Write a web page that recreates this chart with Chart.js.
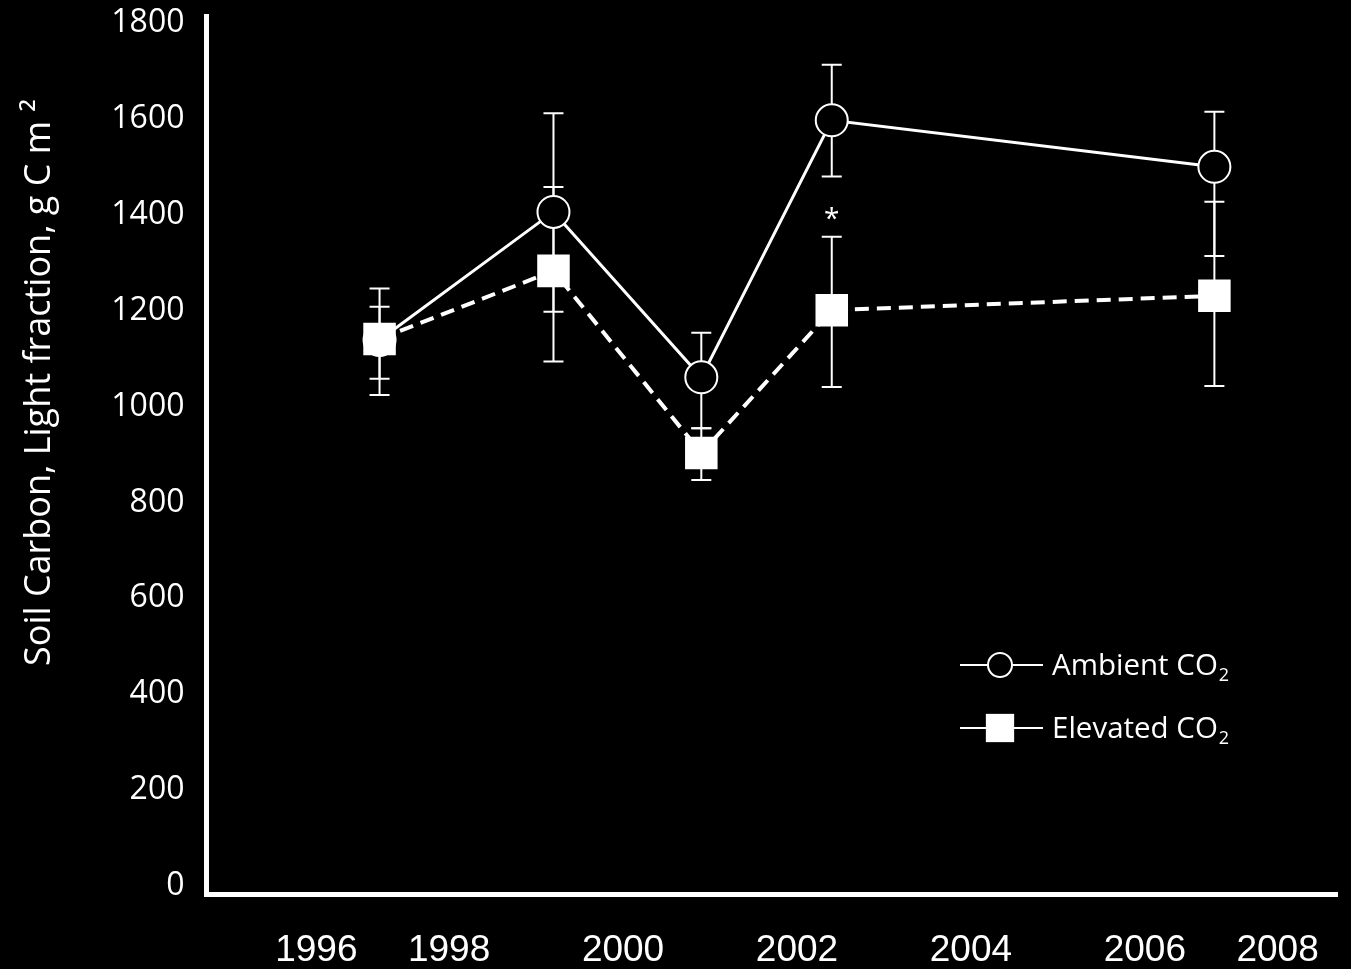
<!DOCTYPE html>
<html>
<head>
<meta charset="utf-8">
<script src="https://cdn.jsdelivr.net/npm/chart.js@4.4.1/dist/chart.umd.min.js"></script>
<style>
  html, body { margin: 0; padding: 0; background: #000; }
  #wrap { width: 1351px; height: 969px; position: relative; }
</style>
</head>
<body>
<div id="wrap"><canvas id="c" width="1351" height="969"></canvas></div>
<script>
// Sampling dates (decimal years)
const sampleYears = [1997.2, 1999.2, 2000.9, 2002.4, 2006.8];

// Ambient CO2 plots: mean and error-bar limits (g C m-2)
const ambientCO2  = [1139, 1406, 1061, 1597, 1500];
const ambientHigh = [1208, 1612, 1154, 1713, 1615];
const ambientLow  = [1058, 1198,  955, 1480, 1314];

// Elevated CO2 plots: mean and error-bar limits (g C m-2)
const elevatedCO2  = [1141, 1283, 903, 1201, 1231];
const elevatedHigh = [1246, 1458, 955, 1354, 1427];
const elevatedLow  = [1024, 1094, 847, 1041, 1043];

// Significant difference marker
const sigYears  = [2002.4];
const sigLevels = [1406];

// Axis ticks
const yearTicks   = [1996, 1998, 2000, 2002, 2004, 2006, 2008];
const carbonTicks = [0, 200, 400, 600, 800, 1000, 1200, 1400, 1600, 1800];

const yTitle = 'Soil Carbon, Light fraction, g C m \u00B2';

const toPoints = (xs, ys) => xs.map((x, i) => ({ x: x, y: ys[i] }));

// Vertical error bars with caps, drawn under the markers
const errorBars = {
  id: 'errorBars',
  beforeDatasetsDraw(chart) {
    const { ctx, scales: { x, y } } = chart;
    ctx.save();
    ctx.strokeStyle = '#ffffff';
    ctx.lineWidth = 2;
    chart.data.datasets.forEach(ds => {
      ds.data.forEach((p, i) => {
        const px = x.getPixelForValue(p.x);
        const hi = y.getPixelForValue(ds.errHigh[i]);
        const lo = y.getPixelForValue(ds.errLow[i]);
        ctx.beginPath();
        ctx.moveTo(px, hi); ctx.lineTo(px, lo);
        ctx.moveTo(px - 10, hi); ctx.lineTo(px + 10, hi);
        ctx.moveTo(px - 10, lo); ctx.lineTo(px + 10, lo);
        ctx.stroke();
      });
    });
    ctx.restore();
  }
};

// Draws text, turning "₂" into a lowered small digit
function drawChem(ctx, text, x, y, size, family) {
  const parts = text.split('\u2082');
  let cx = x;
  parts.forEach((part, i) => {
    ctx.font = size + 'px ' + family;
    ctx.fillText(part, cx, y);
    cx += ctx.measureText(part).width;
    if (i < parts.length - 1) {
      const s = Math.round(size * 0.62);
      ctx.font = s + 'px ' + family;
      ctx.fillText('2', cx + 1, y + size * 0.22);
      cx += ctx.measureText('2').width + 1;
    }
  });
}

// Axis title, significance asterisk and legend
const decorations = {
  id: 'decorations',
  afterDraw(chart) {
    const { ctx, scales: { x, y } } = chart;
    ctx.save();
    ctx.fillStyle = '#ffffff';

    // y-axis title
    ctx.save();
    ctx.translate(50, 666);
    ctx.rotate(-Math.PI / 2);
    ctx.font = '36px "Open Sans"';
    ctx.textAlign = 'left';
    ctx.textBaseline = 'alphabetic';
    ctx.fillText(yTitle, 0, 0);
    ctx.restore();

    // asterisk
    ctx.font = '28px "Open Sans"';
    ctx.textAlign = 'center';
    ctx.textBaseline = 'alphabetic';
    sigYears.forEach((yr, i) => {
      ctx.fillText('*', x.getPixelForValue(yr), y.getPixelForValue(sigLevels[i]) + 16);
    });

    // legend
    const rows = [665, 728];
    const order = [1, 0];
    order.forEach((dsIndex, r) => {
      const ds = chart.data.datasets[dsIndex];
      const cy = rows[r];
      ctx.strokeStyle = '#ffffff';
      ctx.lineWidth = 2;
      ctx.setLineDash([]);
      ctx.beginPath();
      ctx.moveTo(960, cy); ctx.lineTo(1043, cy);
      ctx.stroke();
      ctx.fillStyle = ds.pointBackgroundColor;
      ctx.strokeStyle = ds.pointBorderColor;
      ctx.lineWidth = ds.pointBorderWidth;
      ctx.beginPath();
      if (ds.pointStyle === 'circle') {
        ctx.arc(1000, cy, ds.legendRadius, 0, Math.PI * 2);
        ctx.fill();
        ctx.stroke();
      } else {
        const h = ds.legendRadius * Math.SQRT1_2;
        ctx.rect(1000 - h, cy - h, 2 * h, 2 * h);
        ctx.fill();
      }
      ctx.fillStyle = '#ffffff';
      ctx.textAlign = 'left';
      ctx.textBaseline = 'alphabetic';
      drawChem(ctx, ds.label, 1052, cy + 10, 29.5, '"Open Sans"');
    });
    ctx.restore();
  }
};

function noOverflow(scale) {
  scale.paddingTop = 0;
  scale.paddingBottom = 0;
  scale.paddingLeft = 0;
  scale.paddingRight = 0;
}

new Chart(document.getElementById('c'), {
  type: 'line',
  data: {
    datasets: [
      {
        label: 'Elevated CO\u2082',
        data: toPoints(sampleYears, elevatedCO2),
        errHigh: elevatedHigh,
        errLow: elevatedLow,
        borderColor: '#ffffff',
        borderWidth: 4,
        borderDash: [14, 8],
        pointStyle: 'rect',
        pointRadius: 23,
        legendRadius: 20,
        pointBackgroundColor: '#ffffff',
        pointBorderColor: '#ffffff',
        pointBorderWidth: 0,
        tension: 0,
        fill: false,
        clip: false
      },
      {
        label: 'Ambient CO\u2082',
        data: toPoints(sampleYears, ambientCO2),
        errHigh: ambientHigh,
        errLow: ambientLow,
        borderColor: '#ffffff',
        borderWidth: 3,
        pointStyle: 'circle',
        pointRadius: 16,
        legendRadius: 12,
        pointBackgroundColor: '#000000',
        pointBorderColor: '#ffffff',
        pointBorderWidth: 2,
        tension: 0,
        fill: false,
        clip: false
      }
    ]
  },
  options: {
    responsive: false,
    animation: false,
    layout: { autoPadding: false, padding: { top: 16, right: 14, left: 0, bottom: 0 } },
    plugins: {
      legend: { display: false },
      tooltip: { enabled: false }
    },
    scales: {
      x: {
        type: 'linear',
        min: 1995.21,
        max: 2008.21,
        afterBuildTicks(scale) { scale.ticks = yearTicks.map(v => ({ value: v })); },
        afterFit(scale) { scale.height = 74.5; noOverflow(scale); },
        grid: { display: true, drawOnChartArea: false, drawTicks: false },
        border: { display: true, color: '#ffffff', width: 5 },
        ticks: {
          color: '#ffffff',
          padding: 34,
          align: 'inner',
          maxRotation: 0,
          autoSkip: false,
          font: { family: '"Liberation Sans", Arial, sans-serif', size: 37 },
          callback: v => String(v)
        }
      },
      y: {
        type: 'linear',
        min: -17.7,
        max: 1814.6,
        afterBuildTicks(scale) { scale.ticks = carbonTicks.map(v => ({ value: v })); },
        afterFit(scale) { scale.width = 206.5; noOverflow(scale); },
        grid: { display: true, drawOnChartArea: false, drawTicks: false },
        border: { display: true, color: '#ffffff', width: 5 },
        ticks: {
          color: '#ffffff',
          padding: 22,
          autoSkip: false,
          font: { family: '"Open Sans", sans-serif', size: 32 },
          callback: v => String(v)
        }
      }
    }
  },
  plugins: [errorBars, decorations]
});
</script>
</body>
</html>
